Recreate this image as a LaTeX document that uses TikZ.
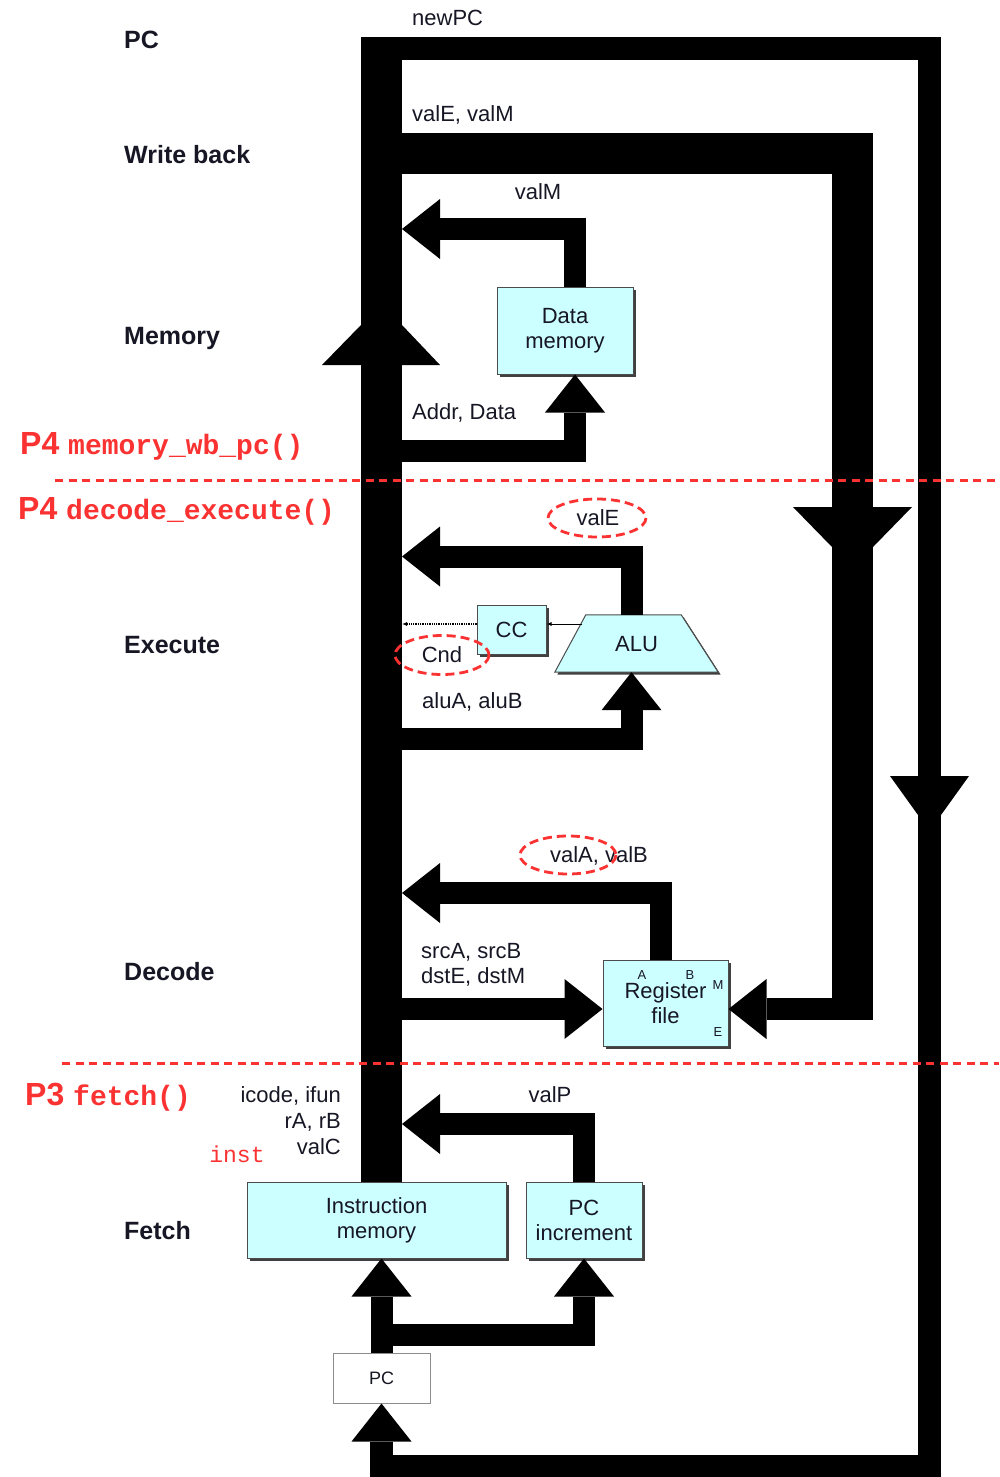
\documentclass[tikz,border=0pt]{standalone}
\usepackage{fontspec}
\setmainfont{Liberation Sans}
\setmonofont{Liberation Mono}
\usetikzlibrary{arrows.meta,shadows,calc}
\definecolor{unitfill}{RGB}{204,255,255}
\definecolor{notered}{RGB}{250,50,50}
\definecolor{ink}{RGB}{22,22,36}

\begin{document}
\begin{tikzpicture}[x=1pt,y=-1pt,
  lbl/.style={font=\fontsize{22}{25}\selectfont, inner sep=0pt, text=ink},
  stage/.style={font=\fontsize{25}{28}\selectfont\bfseries, inner sep=0pt, anchor=west, text=ink},
  unitlook/.style={draw=black!70, line width=1pt, fill=unitfill,
    drop shadow={shadow xshift=2.5pt, shadow yshift=-2.5pt, fill=black!75, opacity=1}},
  unit/.style={unitlook, inner sep=0pt, align=center, text=ink, font=\fontsize{22}{25}\selectfont},
  wire/.style={line width=22pt, line cap=butt, line join=miter},
  busline/.style={line width=41pt, line cap=butt, line join=miter},
  loopline/.style={line width=23pt, line cap=butt, line join=miter},
  bigarrow/.style={-{Triangle[length=38pt,width=60pt,line width=0pt]}},
  smallarrow/.style={-{Latex[length=5pt,width=4pt]}},
  redring/.style={draw=notered, dash pattern=on 9pt off 5pt, line width=2.8pt},
  redsep/.style={draw=notered, dash pattern=on 8pt off 5.5pt, line width=3pt},
  note/.style={text=notered, inner sep=0pt, anchor=west},
  regport/.style={font=\fontsize{13}{14}\selectfont, inner sep=0pt, text=ink}
]
\useasboundingbox (0,0) rectangle (999,1477);

% ---------- functional units ----------
\node[unit, minimum width=136pt, minimum height=87pt] (dmem) at (565,330.5) {Data\\memory};
\node[unit, minimum width=69pt, minimum height=49pt] (cc) at (511.5,629.5) {CC};

% ALU: trapezoid drawn inside the frame of its node
\node[inner sep=0pt, minimum width=163pt, minimum height=57pt] (alu) at (636.5,643.5) {};
\path[unitlook] (alu.south west) -- ($(alu.north west)+(31,0)$)
  -- ($(alu.north east)+(-37,0)$) -- (alu.south east) -- cycle;
\node[lbl] (aluText) at ($(alu.center)+(0,1)$) {ALU};

\node[unit, minimum width=125pt, minimum height=86pt] (rf) at (665.5,1003) {Register\\file};
\node[unit, minimum width=259pt, minimum height=76pt] (imem) at (376.5,1220) {Instruction\\memory};
\node[unit, minimum width=116pt, minimum height=76pt] (pcinc) at (584,1220) {PC\\increment};
\node[draw=black!45, line width=1pt, fill=white, minimum width=97pt, minimum height=50pt,
      text=ink, font=\fontsize{18}{20}\selectfont] (pc) at (381.5,1378) {PC};

% register file port letters
\node[regport] (portA) at (642,975) {A};
\node[regport] (portB) at (690,975) {B};
\node[regport] (portM) at (718,985) {M};
\node[regport] (portE) at (718,1032) {E};

% ---------- bus taps ----------
\coordinate (bustop) at (381.5,37);
\coordinate (npc) at (381.5,48.5);
\coordinate (wbtap) at (381.5,153.5);
\coordinate (inValM) at (402,229);
\coordinate (outAddr) at (395,451);
\coordinate (inValE) at (402,556.5);
\coordinate (inCnd) at (402,624);
\coordinate (outAlu) at (395,739);
\coordinate (inValA) at (402,893);
\coordinate (outSrc) at (395,1009);
\coordinate (inValP) at (402,1124);
\coordinate (wbcorner) at (852.5,153.5);
\coordinate (wbend) at (852.5,1020);
\coordinate (loopTR) at (929.5,48.5);
\coordinate (loopBR) at (929.5,1466);
\coordinate (loopBL) at (381.5,1466);
\coordinate (aluLeft) at (582,624);

% ---------- main datapath bus ----------
\draw[busline] (bustop |- imem.north) -- (bustop);
\fill (322,365) -- (440,365) -- (402,325) -- (361,325) -- cycle;

% new PC loop back to the PC register
\draw[loopline, bigarrow] (npc) -- (loopTR) -- (loopBR) -- (loopBL) -- (pc.south);
\fill (890,776) -- (969,776) -- (941,815) -- (918,815) -- cycle;

% write back to the register file
\draw[busline] (wbtap) -- (wbcorner) -- (wbend);
\fill (793,507) -- (912,507) -- (873,547) -- (832,547) -- cycle;
\draw[wire, bigarrow] (852.5,1009) -- ($(rf.east)+(0,6)$);

% memory stage
\draw[wire, bigarrow] ($(dmem.north)+(10,0)$) |- (inValM);
\draw[wire, bigarrow] (outAddr) -| ($(dmem.south)+(10,0)$);

% execute stage
\draw[wire, bigarrow] ($(alu.north)+(-5,0)$) |- (inValE);
\draw[wire, bigarrow] (outAlu) -| ($(alu.south)+(-5,0)$);
\draw[line width=0.8pt, smallarrow] (aluLeft) -- ($(cc.east)+(0,-5.5)$);
\draw[line width=1.3pt, densely dotted, smallarrow] ($(cc.west)+(0,-5.5)$) -- (inCnd);

% decode stage
\draw[wire, bigarrow] ($(rf.north)+(-4.5,0)$) |- (inValA);
\draw[wire, bigarrow] (outSrc) -- ($(rf.west)+(0,6)$);

% fetch stage
\draw[wire, bigarrow] (pcinc.north) |- (inValP);
\draw[wire, bigarrow] (pc.north) -- (pc.north |- imem.south);
\draw[wire, bigarrow] (pc.north) -- ++(0,-18) -| (pcinc.south);

% ---------- signal labels ----------
\node[lbl, anchor=west] (tNewPC) at (412,18) {newPC};
\node[lbl, anchor=west] (tValEM) at (412,115) {valE, valM};
\node[lbl] (tValM) at (538,192) {valM};
\node[lbl, anchor=west] (tAddr) at (412,413) {Addr, Data};
\node[lbl] (tValE) at (598,518) {valE};
\node[lbl] (tCnd) at (442,655) {Cnd};
\node[lbl, anchor=west] (tAlu) at (422,702) {aluA, aluB};
\node[lbl] (tValAB) at (599,856) {valA, valB};
\node[lbl, anchor=west, align=left] (tSrc) at (421,964.5) {srcA, srcB\\dstE, dstM};
\node[lbl, anchor=east, align=right, font=\fontsize{22}{26}\selectfont] (tIcode) at (341,1121) {icode, ifun\\rA, rB\\valC};
\node[lbl] (tValP) at (550,1095) {valP};

% ---------- stage names ----------
\node[stage] (sPC) at (124,40) {PC};
\node[stage] (sWB) at (124,155) {Write back};
\node[stage] (sMem) at (124,338) {Memory};
\node[stage] (sExe) at (124,645) {Execute};
\node[stage] (sDec) at (124,972) {Decode};
\node[stage] (sFet) at (124,1231) {Fetch};

% ---------- annotations ----------
\draw[redring] (597,518) ellipse [x radius=49, y radius=19];
\draw[redring] (442,655) ellipse [x radius=47, y radius=19.5];
\draw[redring] (568,855) ellipse [x radius=48, y radius=19];

\draw[redsep] (55,480) -- (999,480);
\draw[redsep] (62,1063) -- (999,1063);

\node[note] (pMem) at (20,446) {\fontsize{32}{34}\selectfont\bfseries P4 \fontsize{28}{30}\selectfont\ttfamily memory\_wb\_pc()};
\node[note] (pDE) at (18,511) {\fontsize{32}{34}\selectfont\bfseries P4 \fontsize{28}{30}\selectfont\ttfamily decode\_execute()};
\node[note] (pFetch) at (25,1097) {\fontsize{32}{34}\selectfont\bfseries P3 \fontsize{28}{30}\selectfont\ttfamily fetch()};
\node[note, anchor=center, font=\fontsize{23}{25}\selectfont\ttfamily] (pInst) at (237,1154) {inst};
\end{tikzpicture}
\end{document}
